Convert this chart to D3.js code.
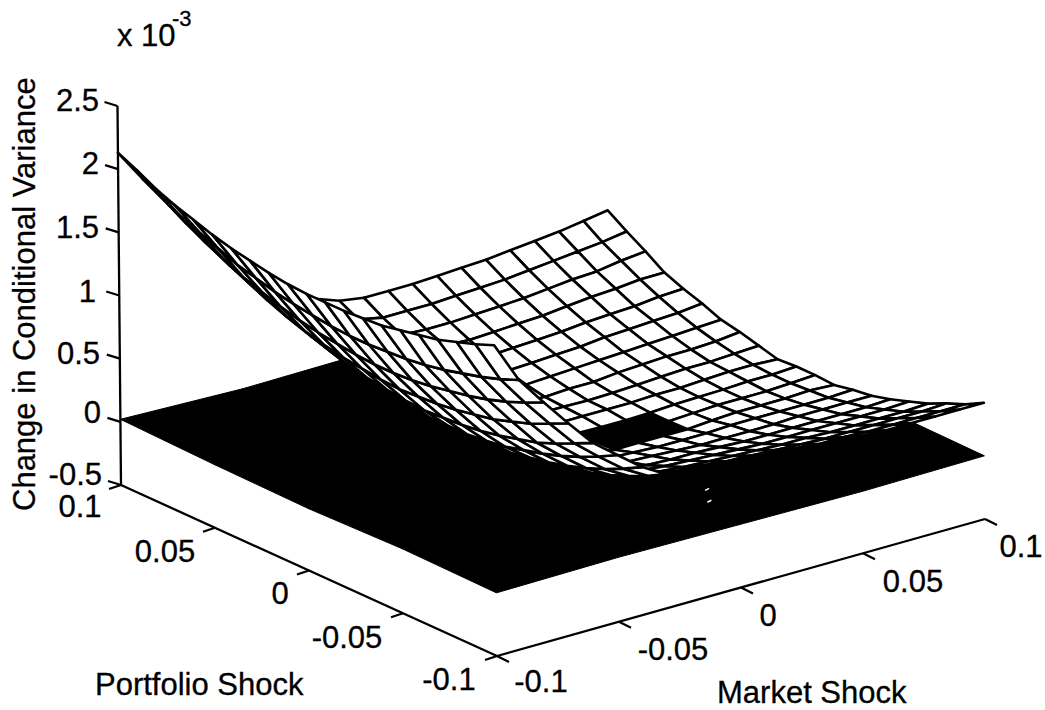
<!DOCTYPE html>
<html>
<head>
<style>
body { margin: 0; background: #fff; }
text { font-family: "Liberation Sans", Arial, sans-serif; font-size: 31px; fill: #000; stroke: #000; stroke-width: 0.3; }
</style>
</head>
<body>
<svg width="1045" height="710"></svg>
<script src="https://d3js.org/d3.v7.min.js"></script>
<script>
// grid of the two shocks
var marketShock = [-0.1,-0.09,-0.08,-0.07,-0.06,-0.05,-0.04,-0.03,-0.02,-0.01,0,0.01,0.02,0.03,0.04,0.05,0.06,0.07,0.08,0.09,0.1];
var portfolioShock = [-0.1,-0.09,-0.08,-0.07,-0.06,-0.05,-0.04,-0.03,-0.02,-0.01,0,0.01,0.02,0.03,0.04,0.05,0.06,0.07,0.08,0.09,0.1];

// x 10^-3. one row per market shock, columns follow portfolioShock
var upperSurface = [
 [1.96,1.90,1.85,1.80,1.77,1.74,1.71,1.70,1.69,1.69,1.69,1.70,1.72,1.75,1.78,1.82,1.87,1.92,1.98,2.06,2.13],
 [1.63,1.57,1.52,1.48,1.44,1.41,1.39,1.38,1.37,1.37,1.38,1.40,1.42,1.45,1.49,1.53,1.59,1.65,1.71,1.79,1.87],
 [1.40,1.33,1.27,1.22,1.18,1.15,1.12,1.10,1.09,1.09,1.10,1.12,1.14,1.17,1.21,1.26,1.31,1.38,1.45,1.53,1.62],
 [1.18,1.11,1.04,0.99,0.94,0.91,0.88,0.86,0.85,0.84,0.85,0.87,0.89,0.92,0.96,1.01,1.07,1.14,1.21,1.30,1.39],
 [0.97,0.90,0.83,0.77,0.73,0.69,0.66,0.64,0.63,0.62,0.63,0.65,0.67,0.70,0.75,0.80,0.86,0.93,1.01,1.09,1.19],
 [0.82,0.74,0.67,0.61,0.56,0.52,0.48,0.46,0.44,0.44,0.44,0.45,0.47,0.51,0.55,0.60,0.65,0.72,0.80,0.89,0.98],
 [0.67,0.59,0.52,0.46,0.41,0.37,0.34,0.31,0.30,0.29,0.29,0.30,0.32,0.35,0.39,0.43,0.49,0.55,0.63,0.71,0.80],
 [0.56,0.48,0.41,0.35,0.30,0.26,0.22,0.20,0.18,0.17,0.17,0.18,0.20,0.23,0.26,0.31,0.36,0.42,0.49,0.57,0.66],
 [0.52,0.44,0.36,0.29,0.24,0.19,0.15,0.12,0.10,0.08,0.08,0.09,0.10,0.12,0.16,0.20,0.25,0.31,0.38,0.45,0.54],
 [0.51,0.42,0.34,0.27,0.21,0.16,0.11,0.08,0.05,0.04,0.03,0.03,0.04,0.07,0.10,0.14,0.18,0.24,0.31,0.39,0.47],
 [0.50,0.41,0.33,0.25,0.19,0.13,0.09,0.05,0.03,0.01,0.00,0.00,0.01,0.03,0.06,0.10,0.15,0.21,0.28,0.35,0.44],
 [0.49,0.40,0.31,0.24,0.18,0.12,0.08,0.04,-0.005,-0.01,-0.01,0.002,0.01,0.03,0.06,0.10,0.15,0.21,0.27,0.35,0.44],
 [0.48,0.39,0.30,0.23,0.17,0.12,0.07,0.03,-0.005,-0.015,-0.015,0.002,0.01,0.02,0.05,0.09,0.14,0.20,0.27,0.35,0.44],
 [0.46,0.37,0.29,0.22,0.16,0.11,0.06,0.03,-0.005,-0.015,-0.015,0.002,0.005,0.03,0.06,0.10,0.15,0.21,0.28,0.36,0.45],
 [0.44,0.35,0.28,0.21,0.15,0.10,0.06,0.03,-0.005,-0.01,-0.01,0.002,0.01,0.03,0.07,0.11,0.16,0.22,0.29,0.37,0.46],
 [0.43,0.35,0.27,0.21,0.15,0.10,0.06,0.04,0.01,0.00,0.00,0.01,0.02,0.05,0.08,0.12,0.17,0.23,0.30,0.38,0.47],
 [0.42,0.34,0.27,0.20,0.15,0.10,0.06,0.04,0.02,0.01,0.005,0.01,0.03,0.06,0.09,0.14,0.19,0.25,0.32,0.40,0.49],
 [0.42,0.34,0.27,0.20,0.15,0.10,0.07,0.04,0.02,0.01,0.01,0.02,0.04,0.07,0.10,0.15,0.20,0.27,0.34,0.42,0.51],
 [0.42,0.34,0.27,0.20,0.15,0.10,0.07,0.04,0.02,0.01,0.02,0.03,0.04,0.07,0.11,0.16,0.21,0.28,0.35,0.44,0.53],
 [0.42,0.34,0.27,0.20,0.15,0.10,0.07,0.04,0.03,0.02,0.02,0.03,0.05,0.08,0.12,0.17,0.23,0.30,0.38,0.46,0.56],
 [0.42,0.34,0.28,0.21,0.16,0.11,0.07,0.05,0.02,0.03,0.03,0.02,0.06,0.10,0.13,0.19,0.24,0.30,0.40,0.49,0.59]
];

// the black sheet is so dense it prints solid, only a few nodes are needed
var sheetMarket = [-0.1,-0.05,0,0.05,0.1];
var sheetPortfolio = [-0.1,-0.05,0,0.05,0.1];
var lowerSurface = [
 [0.00,0.01,-0.01,0.00,0.02],
 [0.01,0.00,0.00,0.00,-0.01],
 [0.00,-0.01,0.00,0.00,0.00],
 [-0.01,0.00,0.00,0.00,0.00],
 [0.00,0.01,0.00,0.00,0.00]
];

// two little white flecks in the black sheet: [market, portfolio]
var flecks = [[0.011,-0.068],[0.005,-0.077]];

var zTicks = [-0.5,0,0.5,1,1.5,2,2.5];
var zTickLabels = ["-0.5","0","0.5","1","1.5","2","2.5"];
var marketTicks = [-0.1,-0.05,0,0.05,0.1];
var marketLabels = ["-0.1","-0.05","0","0.05","0.1"];
var portfolioTicks = [-0.1,-0.05,0,0.05,0.1];
var portfolioLabels = ["-0.1","-0.05","0","0.05","0.1"];

var svg = d3.select("svg");

// oblique projection of the 3d box, front corner is market -0.1 / portfolio -0.1
var marketX = d3.scaleLinear().domain([-0.1,0.1]).range([0,488]);
var marketY = d3.scaleLinear().domain([-0.1,0.1]).range([0,-137]);
var portfolioX = d3.scaleLinear().domain([-0.1,0.1]).range([0,-376]);
var portfolioY = d3.scaleLinear().domain([-0.1,0.1]).range([0,-171]);
var zY = d3.scaleLinear().domain([-0.5,2.5]).range([0,-379]);
var zX = d3.scaleLinear().domain([-0.5,2.5]).range([0,-3.5]);

function project(m, p, z) {
  return [497 + marketX(m) + portfolioX(p) + zX(z),
          656 + marketY(m) + portfolioY(p) + zY(z)];
}

var line = d3.line();

// ---- lower sheet
var sheetCells = [];
sheetMarket.slice(1).forEach(function(d, i) {
  sheetPortfolio.slice(1).forEach(function(e, j) {
    sheetCells.push([
      project(sheetMarket[i], sheetPortfolio[j], lowerSurface[i][j]),
      project(sheetMarket[i+1], sheetPortfolio[j], lowerSurface[i+1][j]),
      project(sheetMarket[i+1], sheetPortfolio[j+1], lowerSurface[i+1][j+1]),
      project(sheetMarket[i], sheetPortfolio[j+1], lowerSurface[i][j+1])
    ]);
  });
});

svg.append("g").selectAll("path")
  .data(sheetCells)
  .enter().append("path")
    .attr("d", function(d) { return line(d) + "Z"; })
    .attr("fill", "#000")
    .attr("stroke", "#000")
    .attr("stroke-width", 1)
    .attr("stroke-linejoin", "round");

svg.append("g").selectAll("line")
  .data(flecks)
  .enter().append("line")
    .attr("x1", function(d) { return project(d[0], d[1], 0)[0] - 2; })
    .attr("y1", function(d) { return project(d[0], d[1], 0)[1] + 1; })
    .attr("x2", function(d) { return project(d[0], d[1], 0)[0] + 2; })
    .attr("y2", function(d) { return project(d[0], d[1], 0)[1] - 1; })
    .attr("stroke", "#fff")
    .attr("stroke-width", 1.5);

// ---- upper mesh, painted far to near
var cells = [];
marketShock.slice(1).forEach(function(d, i) {
  portfolioShock.slice(1).forEach(function(e, j) {
    var z = [upperSurface[i][j], upperSurface[i+1][j], upperSurface[i+1][j+1], upperSurface[i][j+1]];
    // where the mesh dips under the sheet the black shows through
    if (d3.max(z) < 0) return;
    cells.push({
      depth: project(marketShock[i], portfolioShock[j], -0.5)[1],
      pts: [
        project(marketShock[i], portfolioShock[j], z[0]),
        project(marketShock[i+1], portfolioShock[j], z[1]),
        project(marketShock[i+1], portfolioShock[j+1], z[2]),
        project(marketShock[i], portfolioShock[j+1], z[3])
      ]
    });
  });
});
cells.sort(function(a, b) { return a.depth - b.depth; });

svg.append("g").selectAll("path")
  .data(cells)
  .enter().append("path")
    .attr("d", function(d) { return line(d.pts) + "Z"; })
    .attr("fill", "#fff")
    .attr("stroke", "#000")
    .attr("stroke-width", 2.6)
    .attr("stroke-linejoin", "round");

// ---- axes
var axes = svg.append("g").attr("stroke", "#000").attr("stroke-width", 2.3).attr("fill", "none");

function addLine(a, dx, dy, b) {
  var end = b ? b : [a[0] + dx, a[1] + dy];
  axes.append("path").attr("d", line([a, end]));
}

addLine(project(-0.1,0.1,-0.5), 0, 0, project(-0.1,0.1,2.5));
addLine(project(-0.1,-0.1,-0.5), 0, 0, project(-0.1,0.1,-0.5));
addLine(project(-0.1,-0.1,-0.5), 0, 0, project(0.1,-0.1,-0.5));

zTicks.forEach(function(d) { addLine(project(-0.1,0.1,d), -13, -4); });
portfolioTicks.forEach(function(d) { addLine(project(-0.1,d,-0.5), -12, 4); });
marketTicks.forEach(function(d) { addLine(project(d,-0.1,-0.5), 12, 6); });

// ---- tick labels, nudged by hand around the oblique axes (same order as the label arrays)
var zRight = [102,101,100,96,99,99,99];
var zDrop = [0,1,5,6,6,5,5];
var portfolioDx = [-48,-56,-29,-50,-41];
var portfolioDy = [34,35,33,34,32];
var marketDx = [44,54,27,50,36];
var marketDy = [36,38,38,39,38];

svg.append("g").selectAll("text")
  .data(zTicks)
  .enter().append("text")
    .attr("text-anchor", "end")
    .attr("x", function(d, i) { return zRight[i]; })
    .attr("y", function(d, i) { return project(-0.1,0.1,d)[1] + zDrop[i]; })
    .text(function(d, i) { return zTickLabels[i]; });

svg.append("g").selectAll("text")
  .data(portfolioTicks)
  .enter().append("text")
    .attr("text-anchor", "middle")
    .attr("x", function(d, i) { return project(-0.1,d,-0.5)[0] + portfolioDx[i]; })
    .attr("y", function(d, i) { return project(-0.1,d,-0.5)[1] + portfolioDy[i]; })
    .text(function(d, i) { return portfolioLabels[i]; });

svg.append("g").selectAll("text")
  .data(marketTicks)
  .enter().append("text")
    .attr("text-anchor", "middle")
    .attr("x", function(d, i) { return project(d,-0.1,-0.5)[0] + marketDx[i]; })
    .attr("y", function(d, i) { return project(d,-0.1,-0.5)[1] + marketDy[i]; })
    .text(function(d, i) { return marketLabels[i]; });

// ---- titles
svg.append("text").attr("x", 95).attr("y", 695).text("Portfolio Shock");
svg.append("text").attr("x", 717).attr("y", 703).text("Market Shock");
svg.append("text")
  .attr("transform", "translate(35,511) rotate(-90)")
  .text("Change in Conditional Variance");
svg.append("text").attr("x", 117).attr("y", 46).text("x 10");
svg.append("text").attr("x", 172).attr("y", 26).style("font-size", "22px").text("-3");
</script>
</body>
</html>
